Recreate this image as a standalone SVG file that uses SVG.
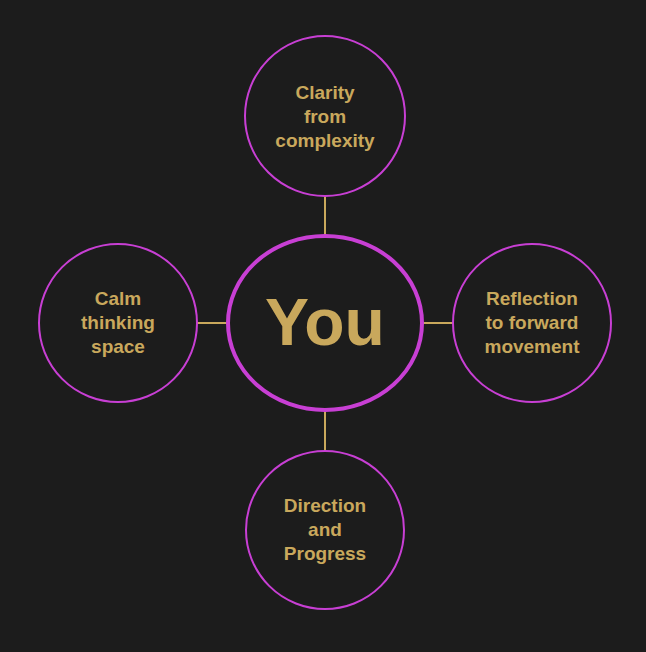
<svg xmlns="http://www.w3.org/2000/svg" width="646" height="652" viewBox="0 0 646 652">
<style>
.n{fill:#1c1c1c;stroke:#c83fd4;stroke-width:2}
.t{fill:#c9a85c;font-family:"Liberation Sans",Arial,sans-serif;font-weight:bold;font-size:19px;text-anchor:middle}
.c{stroke:#c9a85c;stroke-width:2}
</style>
<rect width="646" height="652" fill="#1c1c1c"/>
<g id="connectors">
<line class="c" x1="325" y1="196" x2="325" y2="236"/>
<line class="c" x1="325" y1="410" x2="325" y2="451"/>
<line class="c" x1="197" y1="323" x2="228" y2="323"/>
<line class="c" x1="422" y1="323" x2="453" y2="323"/>
</g>
<g id="center"><ellipse class="n" cx="325" cy="323" rx="97" ry="87" style="stroke-width:4"/><text class="t" x="325" y="345" style="font-size:66px">You</text></g>
<g id="top"><circle class="n" cx="325" cy="116" r="80"/><text class="t" x="325" y="99">Clarity</text><text class="t" x="325" y="123">from</text><text class="t" x="325" y="147">complexity</text></g>
<g id="left"><circle class="n" cx="118" cy="323" r="79"/><text class="t" x="118" y="305">Calm</text><text class="t" x="118" y="329">thinking</text><text class="t" x="118" y="353">space</text></g>
<g id="right"><circle class="n" cx="532" cy="323" r="79"/><text class="t" x="532" y="305">Reflection</text><text class="t" x="532" y="329">to forward</text><text class="t" x="532" y="353">movement</text></g>
<g id="bottom"><circle class="n" cx="325" cy="530" r="79"/><text class="t" x="325" y="512">Direction</text><text class="t" x="325" y="536">and</text><text class="t" x="325" y="560">Progress</text></g>
</svg>
